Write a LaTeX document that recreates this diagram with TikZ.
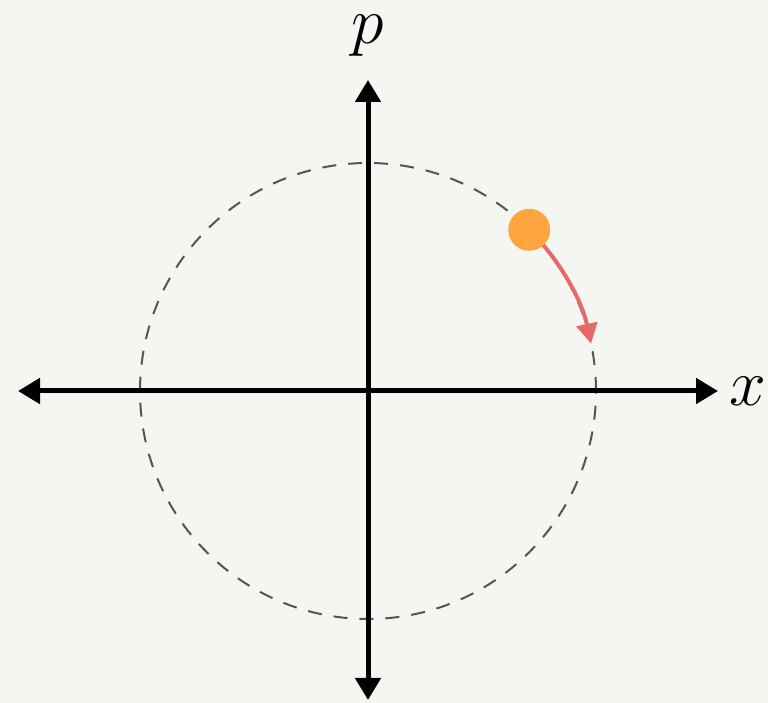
\RequirePackage{fix-cm}
\documentclass[tikz,border=0pt]{standalone}
\usetikzlibrary{arrows.meta}
\definecolor{bgc}{HTML}{F4F6F1}
\definecolor{dashc}{HTML}{555555}
\definecolor{dotc}{HTML}{FFA53F}
\definecolor{arrc}{HTML}{E66A6A}
\tikzset{
  axis/.style={line width=5pt, black, -{Triangle[length=22pt,width=25pt]}},
  orbit/.style={line width=2pt, dashc, dash pattern=on 14pt off 12pt},
  motion/.style={line width=4pt, arrc, -{Triangle[length=20pt,width=21pt]}},
  lbl/.style={font=\fontsize{66}{70}\selectfont, inner sep=0pt, anchor=base}
}
\begin{document}
\begin{tikzpicture}[x=1pt,y=1pt]
\fill[bgc] (0,0) rectangle (768,703);
\useasboundingbox (0,0) rectangle (768,703);
\coordinate (O) at (368,312);
\coordinate (L) at (18,312);
\coordinate (R) at (718,312);
\coordinate (T) at (368,623);
\coordinate (B) at (368,3);
\draw[orbit] (O) circle[radius=228];
\draw[axis] (O) -- (L);
\draw[axis] (O) -- (R);
\draw[axis] (O) -- (T);
\draw[axis] (O) -- (B);
\draw[motion] (O) ++(45:228) arc[start angle=45, end angle=12, radius=228];
\node[circle, fill=dotc, minimum size=42pt, inner sep=0pt] (dot) at ([shift={(45:228)}]O) {};
\node[lbl] (plbl) at (368,659) {$p$};
\node[lbl] (xlbl) at (748,297) {$x$};
\end{tikzpicture}
\end{document}
